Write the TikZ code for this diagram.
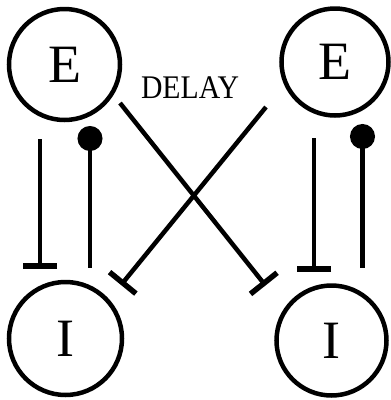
\documentclass[tikz,border=0pt]{standalone}
\usepackage{fontspec}
\setmainfont{Liberation Serif}
\usetikzlibrary{arrows.meta}
\begin{document}
\begin{tikzpicture}[x=1pt,y=-1pt,
  cell/.style={circle,draw,line width=4.5pt,inner sep=0pt,font=\fontsize{54}{54}\selectfont},
  link/.style={line width=4.5pt},
  inhib/.style={link,-{Bar[width=34pt,line width=5.5pt]}},
  excit/.style={link,{Circle[length=25pt]}-}]
\useasboundingbox (0,0) rectangle (391,400);
\node[cell,minimum size=111pt] (E1) at (64.5,64.5) {E};
\node[cell,minimum size=107pt] (E2) at (335,62) {E};
\node[cell,minimum size=113pt] (I1) at (65.5,338.5) {I};
\node[cell,minimum size=110pt] (I2) at (331.5,340.5) {I};
\node[inner sep=0pt,font=\fontsize{33}{33}\selectfont] (D) at (190,87.5) {\scalebox{0.9}[1]{DELAY}};
% left pair
\coordinate (a1) at (40,139);   \coordinate (a2) at (40,268.5);
\coordinate (b1) at (90,126);   \coordinate (b2) at (90,268);
% right pair
\coordinate (c1) at (314,138);  \coordinate (c2) at (314,271.5);
\coordinate (d1) at (362.5,124); \coordinate (d2) at (362.5,268);
% diagonals
\coordinate (e1) at (120,103);  \coordinate (e2) at (265.5,285.5);
\coordinate (f1) at (266,107);  \coordinate (f2) at (121,285);
\draw[inhib] (a1) -- (a2);
\draw[excit] (b1) -- (b2);
\draw[inhib] (c1) -- (c2);
\draw[excit] (d1) -- (d2);
\draw[inhib] (e1) -- (e2);
\draw[inhib] (f1) -- (f2);
\end{tikzpicture}
\end{document}
